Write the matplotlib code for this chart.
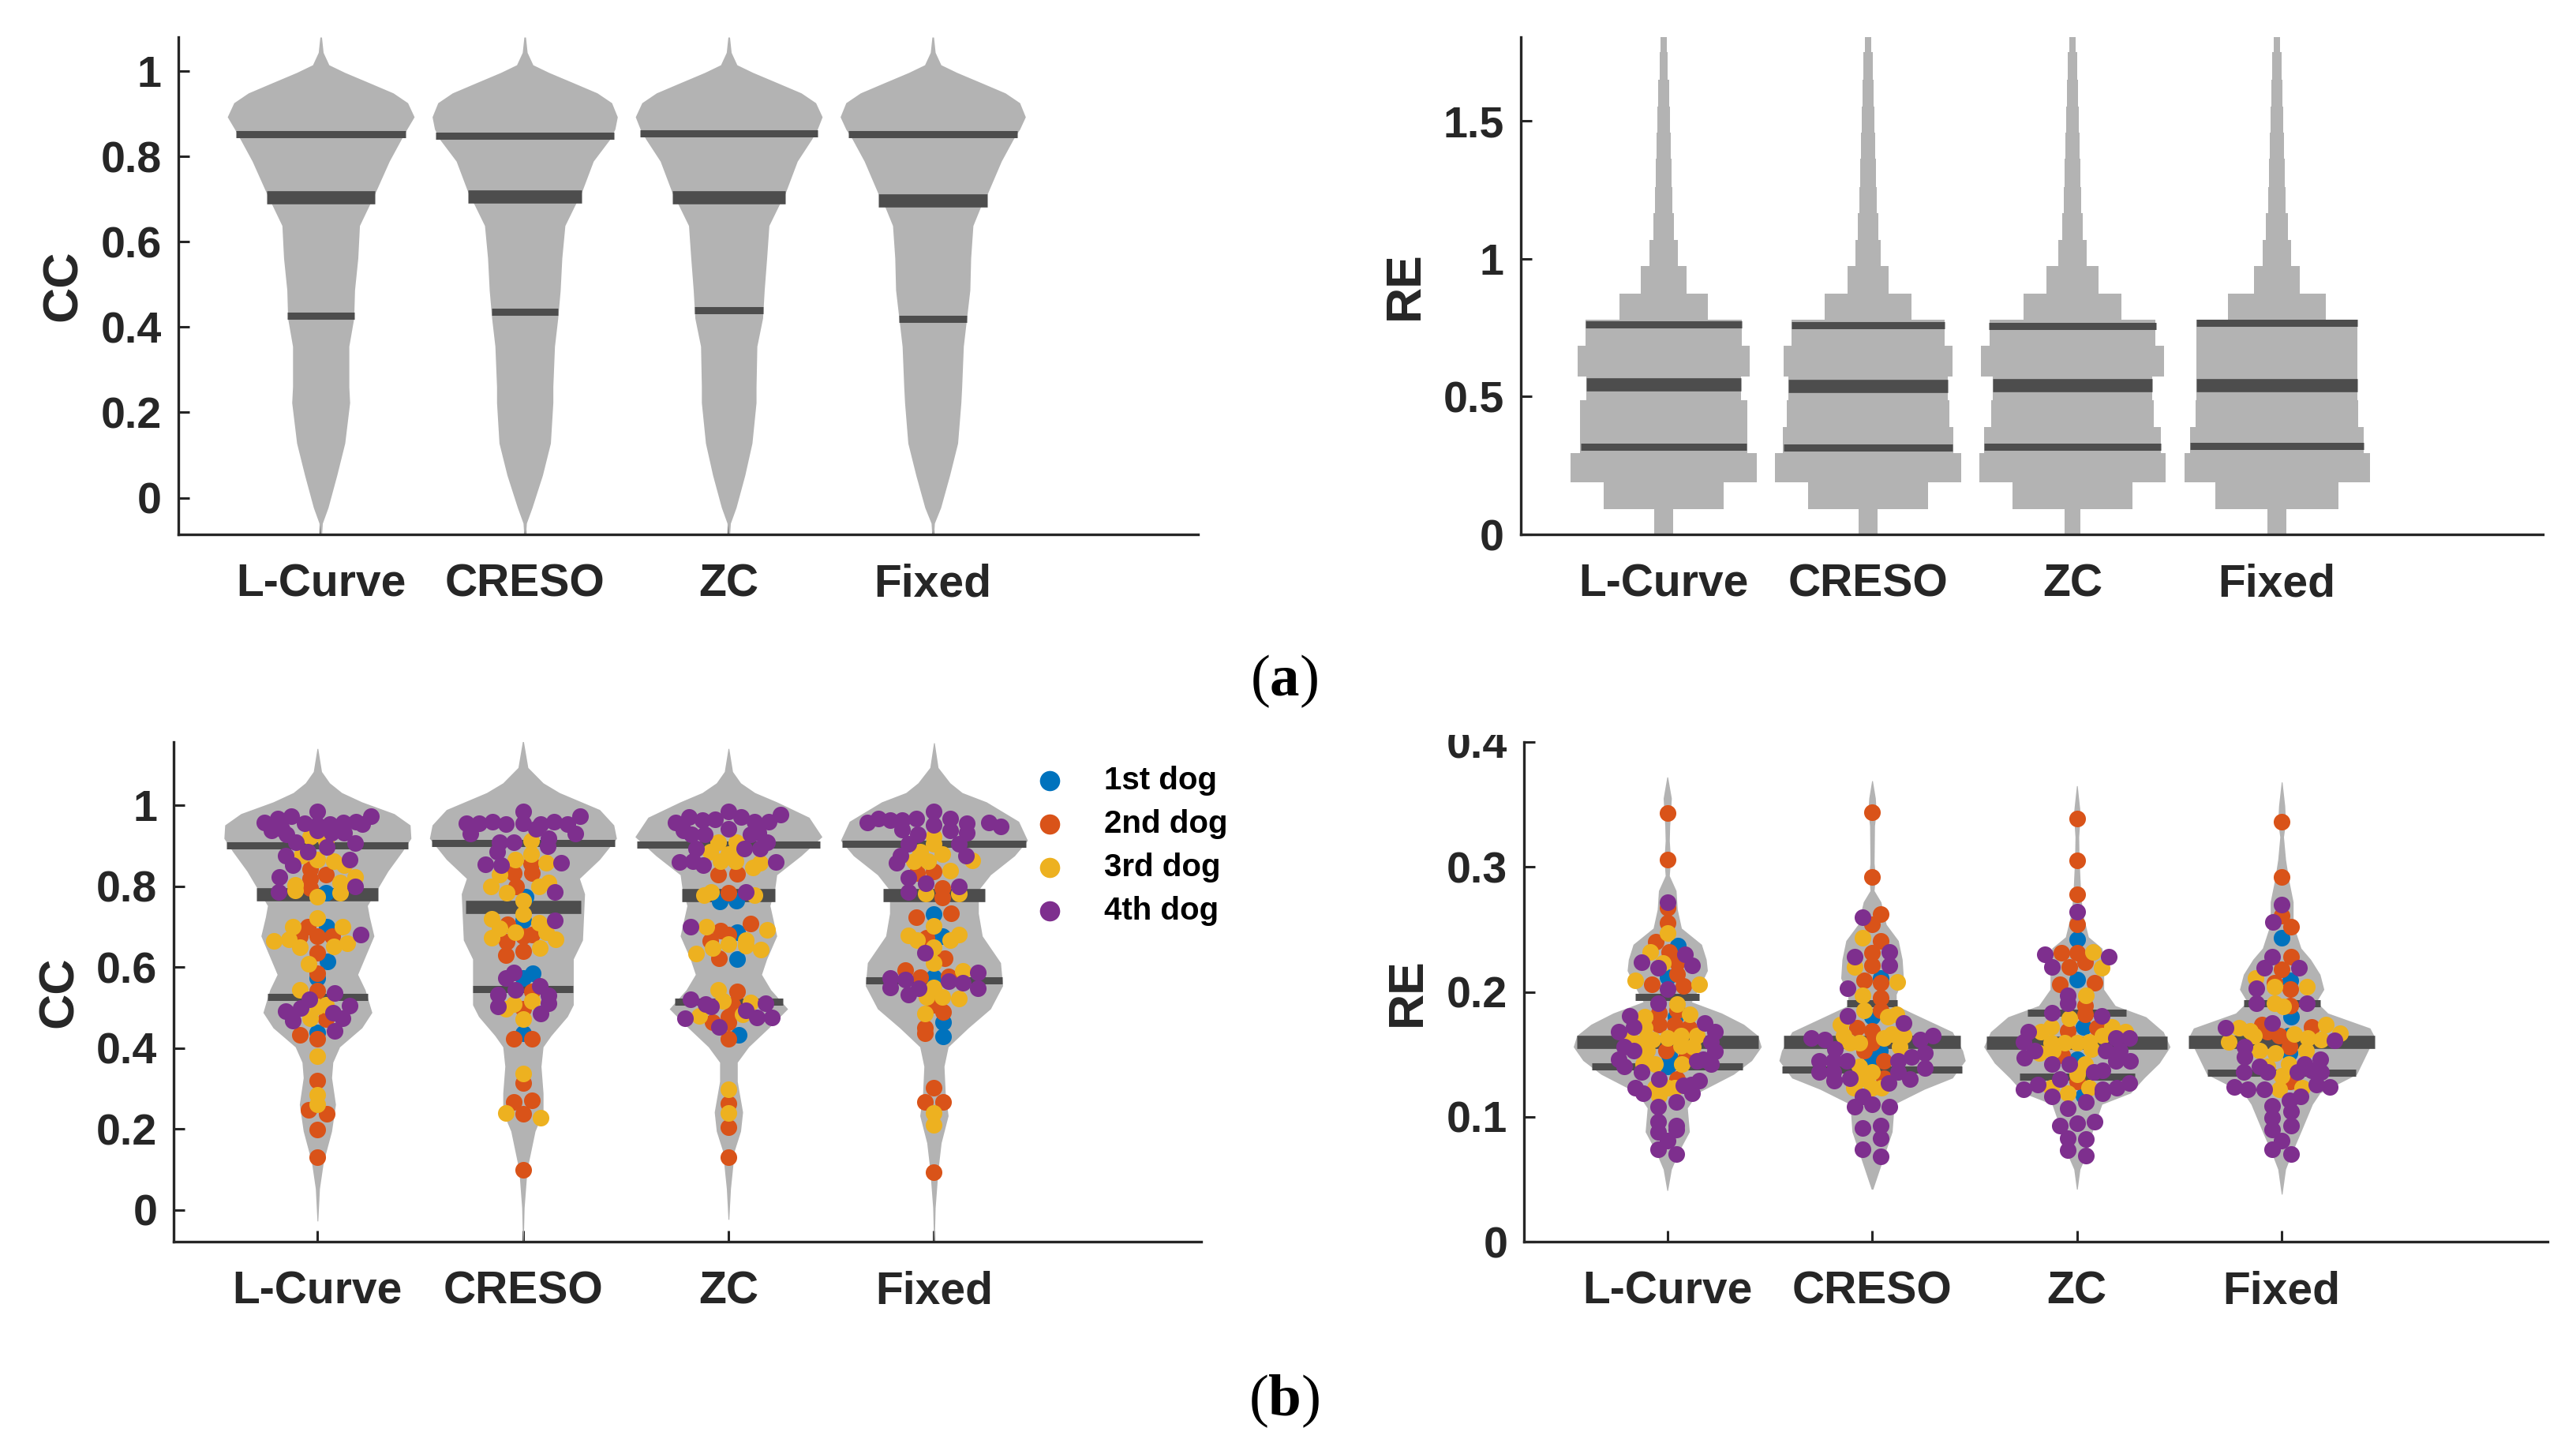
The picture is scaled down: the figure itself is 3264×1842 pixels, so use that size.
import numpy as np
import matplotlib
matplotlib.use("Agg")
import matplotlib.pyplot as plt
from matplotlib.transforms import Bbox

plt.rcParams['font.family'] = ['Liberation Sans', 'DejaVu Sans']
plt.rcParams['font.weight'] = 'bold'
plt.rcParams['mathtext.fontset'] = 'custom'
plt.rcParams['mathtext.rm'] = 'Liberation Serif'
plt.rcParams['mathtext.bf'] = 'Liberation Serif:bold'

METHODS = ['L-Curve', 'CRESO', 'ZC', 'Fixed']
POS = [1, 2, 3, 4]
DOGS = ['1st dog', '2nd dog', '3rd dog', '4th dog']
DOG_COLORS = ['#0072BD', '#D95319', '#EDB120', '#7E2F8E']
GRAY = '#B3B3B3'
DARK = '#4D4D4D'
INK = '#262626'

# ---- panel (a) CC: density profile, same y grid for all methods
CC_A_Y = [1.08, 1.044, 1.015, .997, .973, .949, .926, .893, .864, .841, .789, .713, .685, .638, .562, .487, .421, .355, .26, .223, .128, .053, -.023, -.06, -.087]
CC_A_W = [
    [.004, .012, .04, .118, .237, .355, .426, .458, .422, .395, .336, .265, .237, .19, .182, .166, .162, .138, .138, .142, .118, .079, .036, .008, .004],
    [.004, .012, .04, .118, .237, .355, .426, .454, .442, .418, .336, .276, .245, .197, .182, .174, .162, .146, .138, .138, .126, .087, .036, .008, .004],
    [.004, .012, .04, .118, .237, .355, .426, .458, .434, .407, .336, .276, .245, .197, .186, .174, .166, .138, .134, .134, .114, .079, .036, .008, .004],
    [.004, .012, .04, .118, .237, .355, .426, .454, .426, .395, .336, .268, .237, .197, .186, .182, .166, .15, .142, .138, .122, .083, .039, .008, .004],
]
CC_A_Q = [[.426, .704, .853], [.435, .707, .849], [.439, .705, .855], [.42, .696, .853]]
CC_A_QW = [[.166, .265, .415], [.162, .28, .438], [.17, .276, .434], [.166, .268, .415]]

# ---- panel (a) RE: binned density
RE_A_EDGES = [0, .092, .19, .294, .391, .488, .572, .684, .779, .874, .974, 1.07, 1.167, 1.262, 1.364, 1.459, 1.553, 1.65, 1.75, 1.805]
RE_A_W = [
    [.046, .293, .454, .408, .408, .377, .42, .381, .216, .112, .069, .05, .042, .038, .035, .031, .027, .019, .015],
    [.046, .293, .454, .416, .397, .389, .412, .373, .212, .1, .062, .05, .042, .038, .035, .031, .027, .023, .015],
    [.039, .293, .454, .431, .397, .389, .447, .404, .239, .127, .069, .05, .042, .038, .035, .031, .027, .023, .015],
    [.046, .3, .454, .424, .397, .393, .393, .393, .239, .112, .069, .054, .042, .038, .035, .031, .027, .023, .015],
]
RE_A_Q = [[.319, .545, .763], [.316, .539, .76], [.319, .542, .757], [.322, .542, .769]]
RE_A_QW = [[.404, .377, .381], [.412, .389, .373], [.431, .389, .408], [.424, .393, .393]]

# ---- panel (b) CC: density profiles
CC_B_Y = [
    [1.14, 1.083, 1.055, 1.031, 1.008, .979, .951, .918, .885, .837, .795, .752, .724, .677, .629, .582, .544, .488, .45, .403, .365, .327, .261, .195, .119, .053, -.027],
    [1.159, 1.093, 1.055, 1.031, .989, .951, .918, .866, .819, .781, .667, .62, .573, .507, .478, .431, .403, .355, .289, .242, .195, .1, .006, -.075],
    [1.14, 1.083, 1.055, 1.031, 1.008, .97, .922, .875, .828, .795, .752, .677, .62, .582, .544, .497, .45, .403, .365, .318, .242, .195, .147, .053, -.023],
    [1.154, 1.093, 1.055, 1.031, 1.008, .96, .913, .875, .828, .79, .733, .677, .611, .554, .497, .45, .403, .355, .289, .233, .166, .1, .006, -.075],
]
CC_B_W = [
    [.002, .02, .059, .118, .216, .373, .451, .455, .412, .343, .294, .243, .253, .275, .235, .196, .232, .265, .216, .108, .075, .069, .088, .069, .029, .01, .002],
    [.002, .024, .098, .177, .373, .442, .455, .373, .275, .3, .29, .245, .245, .245, .216, .137, .098, .088, .098, .098, .059, .02, .006, .002],
    [.002, .02, .059, .128, .235, .392, .455, .353, .235, .226, .202, .235, .186, .161, .206, .288, .196, .098, .043, .043, .069, .059, .029, .01, .002],
    [.002, .02, .078, .137, .255, .412, .455, .392, .275, .216, .216, .235, .324, .334, .275, .167, .069, .049, .055, .069, .035, .02, .006, .002],
]
CC_B_Q = [[.527, .78, .90], [.546, .748, .906], [.514, .778, .903], [.567, .778, .904]]
CC_B_QW = [[.243, .296, .442], [.245, .281, .445], [.263, .226, .445], [.332, .247, .447]]

# ---- panel (b) RE: density profiles
RE_B_Y = [
    [.372, .355, .343, .333, .321, .306, .293, .281, .266, .251, .238, .226, .217, .205, .192, .183, .174, .165, .156, .145, .134, .119, .107, .088, .073, .058, .041],
    [.369, .355, .344, .333, .303, .293, .281, .272, .254, .241, .226, .211, .198, .189, .18, .168, .153, .145, .131, .122, .11, .088, .064, .042],
    [.365, .345, .338, .324, .306, .278, .263, .244, .235, .226, .214, .202, .189, .18, .168, .156, .143, .131, .119, .11, .088, .07, .058, .042],
    [.368, .349, .336, .324, .306, .29, .272, .254, .235, .226, .214, .202, .192, .183, .171, .165, .156, .134, .119, .11, .088, .07, .058, .038],
]
RE_B_W = [
    [.002, .02, .016, .012, .01, .016, .01, .043, .049, .069, .167, .19, .196, .161, .118, .265, .373, .442, .459, .412, .324, .147, .098, .108, .059, .02, .002],
    [.002, .016, .02, .012, .01, .016, .01, .043, .069, .128, .147, .153, .118, .118, .235, .392, .442, .455, .392, .255, .108, .098, .049, .004],
    [.002, .015, .015, .009, .011, .019, .028, .056, .122, .131, .131, .131, .187, .337, .422, .455, .403, .328, .262, .122, .075, .047, .015, .002],
    [.002, .015, .019, .009, .019, .034, .056, .056, .094, .141, .187, .206, .169, .225, .431, .45, .431, .366, .187, .15, .094, .047, .019, .002],
]
RE_B_Q = [[.14, .16, .196], [.138, .16, .191], [.132, .159, .183], [.135, .16, .191]]
RE_B_QW = [[.369, .443, .157], [.44, .432, .122], [.281, .44, .24], [.362, .454, .187]]

# ---- swarm points: (offset from violin centre, value)
cc_lcurve_1st = [(.041,.783),(.045,.70),(.047,.615),(0,.573),(0,.438)]
cc_lcurve_2nd = [(-.037,.842),(-.037,.819),(.041,.828),(-.037,.795),(0,.677),(-.047,.70),(-.086,.677),(.071,.677),(0,.636),(0,.584),(0,.542),(.041,.471),(-.086,.433),(0,.423),(0,.319),(-.043,.247),(.045,.237),(0,.199),(0,.13)]
cc_lcurve_3rd = [(0,.941),(-.037,.923),(.041,.913),(-.077,.875),(0,.866),(.08,.861),(.13,.852),(.182,.823),(.11,.809),(-.11,.804),(-.11,.79),(.11,.783),(0,.774),(0,.721),(-.12,.70),(.12,.70),(-.214,.664),(-.139,.669),(-.086,.65),(.08,.651),(.143,.658),(-.043,.609),(-.086,.544),(.041,.507),(0,.502),(-.037,.474),(0,.381),(0,.285),(0,.261)]
cc_lcurve_4th = [(.259,.973),(.188,.96),(.126,.958),(.061,.953),(0,.984),(0,.951),(-.063,.955),(-.128,.973),(-.194,.967),(-.259,.957),(-.224,.937),(-.175,.941),(-.151,.927),(-.106,.908),(0,.937),(.067,.932),(.13,.932),(.218,.954),(.182,.906),(.045,.897),(-.047,.885),(-.155,.876),(-.122,.852),(.155,.866),(-.184,.823),(-.188,.785),(.184,.80),(.084,.537),(-.041,.521),(-.08,.499),(-.153,.491),(-.122,.467),(.077,.488),(.155,.505),(.12,.474),(.084,.442),(.212,.681)]

cc_creso_1st = [(.014,.774),(0,.715),(.047,.585),(0,.573),(0,.436)]
cc_creso_2nd = [(-.045,.833),(.043,.833),(-.035,.80),(.039,.856),(-.075,.705),(.043,.681),(-.078,.663),(0,.639),(0,.677),(-.084,.629),(.043,.54),(0,.497),(-.045,.423),(.043,.423),(0,.313),(-.045,.267),(.043,.27),(0,.237),(0,.10)]
cc_creso_3rd = [(.039,.913),(.039,.88),(-.039,.866),(.112,.858),(-.114,.828),(-.157,.80),(-.078,.784),(.126,.809),(.077,.80),(0,.765),(0,.731),(-.153,.719),(.077,.709),(-.114,.696),(-.039,.686),(-.153,.672),(.112,.686),(.157,.669),(.082,.648),(.043,.516),(-.045,.509),(-.084,.497),(0,.471),(0,.338),(-.084,.24),(.086,.228)]
cc_creso_4th = [(.279,.973),(.216,.953),(.151,.96),(.086,.953),(0,.984),(0,.956),(-.084,.953),(-.149,.96),(-.212,.956),(-.275,.956),(-.255,.93),(.255,.93),(.063,.941),(.126,.918),(.122,.899),(-.045,.908),(-.114,.908),(-.124,.885),(-.182,.854),(-.108,.852),(.184,.858),(.155,.785),(.155,.715),(-.045,.587),(-.084,.573),(.082,.554),(-.12,.532),(-.039,.544),(.126,.53),(-.12,.502),(.126,.511),(.086,.485)]

cc_zc_1st = [(-.043,.762),(.039,.765),(.043,.686),(.043,.62),(.049,.433)]
cc_zc_2nd = [(-.049,.828),(.043,.83),(0,.783),(.108,.708),(-.039,.691),(0,.681),(-.088,.664),(-.045,.622),(.043,.54),(.02,.507),(0,.478),(-.078,.464),(0,.464),(0,.423),(0,.263),(0,.204),(0,.131)]
cc_zc_3rd = [(-.049,.908),(.039,.908),(-.088,.885),(0,.88),(-.039,.861),(.035,.861),(.118,.847),(.153,.858),(-.118,.778),(-.084,.785),(.128,.778),(-.108,.70),(.186,.693),(.084,.667),(0,.656),(-.078,.648),(.084,.653),(.157,.644),(-.157,.634),(-.049,.544),(-.029,.516),(.108,.513),(.069,.483),(-.141,.48),(0,.299),(0,.24)]
cc_zc_4th = [(.255,.977),(.196,.96),(.128,.96),(.063,.97),(0,.984),(0,.941),(-.065,.965),(-.128,.963),(-.192,.97),(-.259,.957),(-.22,.937),(-.182,.927),(-.114,.927),(.108,.927),(.147,.932),(.186,.908),(.153,.892),(.075,.892),(-.157,.892),(-.239,.859),(-.173,.861),(-.122,.852),(.232,.859),(.084,.785),(-.186,.70),(-.186,.521),(-.112,.509),(-.084,.502),(.182,.511),(.084,.494),(.137,.475),(.21,.475),(-.212,.474),(-.045,.453)]

cc_fixed_1st = [(0,.731),(.041,.677),(0,.576),(.045,.464),(.045,.429)]
cc_fixed_2nd = [(-.084,.833),(0,.837),(.041,.795),(.041,.771),(-.086,.724),(.084,.733),(-.037,.672),(.051,.622),(-.139,.592),(-.067,.576),(.071,.577),(0,.507),(.045,.49),(-.045,.45),(-.045,.436),(0,.303),(-.045,.267),(.045,.267),(0,.094)]
cc_fixed_3rd = [(0,.923),(0,.904),(-.067,.885),(.041,.88),(-.027,.861),(-.096,.861),(.188,.863),(.08,.839),(-.041,.781),(.12,.781),(0,.702),(-.126,.679),(-.084,.667),(.12,.681),(.08,.667),(0,.65),(0,.611),(.139,.59),(0,.549),(-.037,.527),(.041,.527),(.12,.523),(-.045,.486),(0,.24),(0,.211)]
cc_fixed_4th = [(.326,.948),(.267,.957),(-.326,.958),(-.269,.967),(-.214,.963),(-.155,.963),(-.086,.967),(0,.984),(0,.951),(.08,.967),(.159,.956),(-.155,.94),(-.077,.927),(.08,.937),(.159,.932),(.12,.904),(-.126,.904),(-.165,.875),(-.184,.858),(.155,.875),(-.124,.82),(-.124,.785),(-.041,.807),(.12,.80),(-.045,.636),(-.212,.573),(-.212,.549),(-.139,.57),(-.073,.547),(-.124,.532),(.071,.566),(.139,.561),(.212,.587),(.212,.547)]

re_lcurve_1st = [(.051,.237),(0,.212),(.041,.18),(0,.14),(.008,.149)]
re_lcurve_2nd = [(0,.343),(0,.306),(0,.267),(0,.255),(-.055,.24),(.008,.232),(.047,.224),(.047,.214),(-.077,.206),(.077,.205),(.047,.185),(-.041,.183),(-.041,.174),(.106,.171),(-.006,.153),(.037,.174),(.047,.13),(.086,.146)]
re_lcurve_3rd = [(0,.247),(-.084,.232),(-.022,.223),(-.155,.209),(.155,.206),(.047,.19),(.11,.182),(-.11,.18),(-.11,.171),(-.179,.162),(-.12,.16),(-.071,.162),(0,.163),(.067,.165),(.067,.157),(.145,.165),(.126,.156),(-.139,.153),(-.1,.153),(-.12,.142),(-.061,.142),(.071,.142),(-.061,.123),(0,.123),(-.041,.117),(.037,.123)]
re_lcurve_4th = [(0,.272),(-.124,.224),(-.045,.219),(.086,.23),(.122,.221),(0,.202),(-.045,.191),(-.184,.181),(.184,.175),(-.163,.172),(-.237,.168),(.234,.168),(.214,.16),(-.212,.156),(-.163,.153),(.234,.152),(-.237,.146),(.175,.146),(.214,.142),(-.212,.14),(.145,.145),(-.124,.136),(-.041,.13),(-.155,.123),(-.12,.119),(.155,.129),(.116,.126),(.077,.125),(.122,.119),(-.045,.108),(.043,.112),(-.045,.096),(-.045,.088),(.043,.093),(.043,.09),(0,.081),(-.045,.074),(.043,.07)]

re_creso_1st = [(.043,.211),(0,.18),(.037,.153),(0,.146)]
re_creso_2nd = [(0,.344),(0,.292),(.043,.262),(0,.254),(.043,.241),(0,.231),(0,.221),(-.041,.209),(.043,.207),(.043,.195),(.043,.185),(-.075,.171),(0,.169),(0,.159),(.057,.145),(.057,.131),(-.041,.153)]
re_creso_3rd = [(-.045,.243),(-.086,.22),(.122,.208),(-.045,.197),(-.041,.185),(-.153,.174),(.077,.18),(.12,.182),(-.139,.165),(-.061,.159),(.057,.163),(.155,.165),(.096,.166),(-.11,.159),(.135,.156),(-.061,.14),(0,.136),(-.061,.13),(-.09,.123),(0,.123),(.047,.123),(-.031,.13)]
re_creso_4th = [(-.045,.26),(-.084,.228),(.086,.232),(.086,.221),(-.12,.203),(-.12,.181),(.155,.175),(-.296,.163),(-.231,.162),(-.182,.154),(.234,.162),(.296,.165),(.257,.151),(-.257,.145),(-.188,.145),(-.124,.145),(-.257,.136),(-.188,.136),(-.11,.131),(-.184,.129),(.126,.145),(.194,.148),(.257,.139),(.126,.136),(.184,.13),(.08,.127),(-.047,.116),(-.084,.108),(0,.11),(.086,.108),(-.045,.091),(.043,.093),(.043,.083),(-.045,.074),(.043,.068)]

re_zc_1st = [(0,.242),(0,.21),(.032,.172),(0,.146),(.032,.117)]
re_zc_2nd = [(0,.339),(0,.305),(0,.278),(0,.254),(-.077,.231),(0,.231),(.041,.224),(-.039,.22),(-.084,.206),(.088,.207),(.041,.182),(-.043,.169),(.097,.171),(.041,.189),(-.071,.149),(0,.128)]
re_zc_3rd = [(.079,.232),(.122,.219),(.045,.197),(-.039,.179),(-.127,.172),(.172,.172),(.238,.168),(-.174,.168),(-.127,.159),(-.062,.159),(0,.159),(.06,.16),(.126,.165),(-.184,.151),(-.118,.153),(.069,.154),(.041,.142),(0,.134),(-.127,.123),(-.043,.119),(.06,.123)]
re_zc_4th = [(0,.264),(-.156,.23),(.157,.228),(-.122,.22),(-.043,.197),(-.043,.191),(-.122,.183),(.122,.181),(-.236,.168),(-.259,.16),(-.208,.153),(-.255,.147),(.191,.163),(.257,.163),(.141,.153),(.21,.153),(.191,.145),(.26,.145),(-.122,.142),(-.039,.142),(.084,.136),(.126,.137),(-.084,.13),(-.193,.126),(-.259,.122),(-.122,.116),(.126,.122),(.126,.119),(.195,.123),(.257,.127),(.045,.112),(-.043,.107),(-.084,.093),(0,.095),(.088,.096),(-.043,.083),(.045,.082),(-.043,.073),(.045,.069)]

re_fixed_1st = [(0,.243),(.043,.209),(.047,.18),(.037,.151),(.034,.165)]
re_fixed_2nd = [(0,.336),(0,.292),(0,.261),(.047,.252),(.047,.228),(0,.218),(-.037,.207),(.043,.202),(.043,.189),(-.097,.174),(-.013,.165),(.146,.172),(.037,.156),(.043,.128),(-.069,.168)]
re_fixed_3rd = [(-.126,.211),(-.037,.204),(.124,.204),(-.037,.191),(.006,.188),(.216,.174),(.283,.167),(-.21,.171),(-.154,.169),(-.257,.16),(-.135,.165),(.062,.166),(.127,.163),(.193,.162),(.118,.153),(-.107,.153),(-.032,.151),(.034,.142),(0,.133),(-.013,.122),(.099,.123),(-.069,.14)]
re_fixed_4th = [(0,.27),(-.043,.256),(-.045,.228),(-.084,.219),(.086,.219),(-.122,.203),(-.122,.191),(.124,.191),(-.045,.175),(-.276,.171),(.259,.161),(-.182,.156),(-.182,.148),(.187,.146),(.112,.142),(-.186,.136),(-.107,.14),(-.069,.136),(.075,.136),(.146,.137),(.193,.136),(-.232,.124),(-.167,.122),(-.084,.122),(.169,.126),(.236,.124),(.09,.116),(.037,.113),(-.045,.109),(.047,.104),(-.045,.099),(.047,.093),(-.045,.09),(0,.081),(-.045,.074),(.047,.07)]

CC_POINTS = [[cc_lcurve_1st, cc_lcurve_2nd, cc_lcurve_3rd, cc_lcurve_4th],
             [cc_creso_1st, cc_creso_2nd, cc_creso_3rd, cc_creso_4th],
             [cc_zc_1st, cc_zc_2nd, cc_zc_3rd, cc_zc_4th],
             [cc_fixed_1st, cc_fixed_2nd, cc_fixed_3rd, cc_fixed_4th]]
RE_POINTS = [[re_lcurve_1st, re_lcurve_2nd, re_lcurve_3rd, re_lcurve_4th],
             [re_creso_1st, re_creso_2nd, re_creso_3rd, re_creso_4th],
             [re_zc_1st, re_zc_2nd, re_zc_3rd, re_zc_4th],
             [re_fixed_1st, re_fixed_2nd, re_fixed_3rd, re_fixed_4th]]

W, H = 3264, 1842
fig = plt.figure(figsize=(W / 100, H / 100), dpi=100, facecolor='white')


def make_axes(x0, x1, ytop, ybot, ylim, yticks, yticklabels, ylabel, ylabel_x):
    ax = fig.add_axes([x0 / W, 1 - ybot / H, (x1 - x0) / W, (ybot - ytop) / H])
    ax.set_xlim(0.3, 5.3)
    ax.set_ylim(*ylim)
    for s in ('top', 'right'):
        ax.spines[s].set_visible(False)
    for s in ('left', 'bottom'):
        ax.spines[s].set_linewidth(2.4)
        ax.spines[s].set_color(INK)
    ax.set_xticks(POS, METHODS)
    ax.set_yticks(yticks, yticklabels)
    ax.tick_params(axis='both', direction='in', length=10, width=2.2, color=INK, labelcolor=INK)
    ax.tick_params(axis='x', pad=26, labelsize=41)
    ax.tick_params(axis='y', pad=15, labelsize=40)
    fig.text(ylabel_x / W, 1 - (ytop + ybot) / 2 / H, ylabel, rotation=90, ha='center', va='center',
             fontsize=45, color=INK, fontweight='bold')
    return ax


def draw_bars(ax, q, qw):
    for c, qs, ws in zip(POS, q, qw):
        for i, (y, w) in enumerate(zip(qs, ws)):
            ax.hlines(y, c - w, c + w, colors=DARK, linewidth=12 if i == 1 else 6.5,
                      capstyle='butt', zorder=3)


def draw_violins(ax, ys, ws):
    for c, y, w in zip(POS, ys, ws):
        w = np.asarray(w)
        ax.fill_betweenx(y, c - w, c + w, color=GRAY, lw=0, zorder=2)


def draw_swarm(ax, points):
    for c, dogs in zip(POS, points):
        for dog, col in zip(dogs, DOG_COLORS):
            pts = np.asarray(dog)
            ax.scatter(c + pts[:, 0], pts[:, 1], s=230, color=col, lw=0, zorder=4, clip_on=False)


# (a) CC
ax = make_axes(225.5, 1518, 47, 677, (-.086, 1.08), [0, .2, .4, .6, .8, 1], ['0', '0.2', '0.4', '0.6', '0.8', '1'], 'CC', 80)
draw_violins(ax, [CC_A_Y] * 4, CC_A_W)
draw_bars(ax, CC_A_Q, CC_A_QW)

# (a) RE
ax = make_axes(1926.5, 3222, 47, 677, (0, 1.805), [0, .5, 1, 1.5], ['0', '0.5', '1', '1.5'], 'RE', 1780)
for c, w in zip(POS, RE_A_W):
    w = np.asarray(w + [w[-1]])
    ax.fill_betweenx(RE_A_EDGES, c - w, c + w, step='post', color=GRAY, lw=0, zorder=2)
draw_bars(ax, RE_A_Q, RE_A_QW)

# (b) CC
ax = make_axes(220, 1522, 940, 1573, (-.078, 1.156), [0, .2, .4, .6, .8, 1], ['0', '0.2', '0.4', '0.6', '0.8', '1'], 'CC', 75)
draw_violins(ax, CC_B_Y, CC_B_W)
draw_bars(ax, CC_B_Q, CC_B_QW)
draw_swarm(ax, CC_POINTS)
handles = [ax.scatter([], [], s=340, color=col, lw=0) for col in DOG_COLORS]
ax.legend(handles, DOGS, loc='upper left', bbox_to_anchor=((1310 - 220) / 1302, 1 - (970 - 940) / 633),
          frameon=False, fontsize=29, labelcolor='black', borderpad=0, borderaxespad=0,
          labelspacing=0.42, handletextpad=1.2, handlelength=1.0)

# (b) RE
ax = make_axes(1931, 3228.5, 940, 1573, (0, .4), [0, .1, .2, .3, .4], ['0', '0.1', '0.2', '0.3', '0.4'], 'RE', 1783)
draw_violins(ax, RE_B_Y, RE_B_W)
draw_bars(ax, RE_B_Q, RE_B_QW)
draw_swarm(ax, RE_POINTS)
# the topmost tick label is cut off at its top in the reference
top_label = ax.get_yticklabels()[-1]
top_label.set_clip_on(True)
top_label.set_clip_box(Bbox.from_extents(0, 0, W, H - 931))

fig.text(1627 / W, 1 - 863 / H, r'($\mathbf{a}$)', ha='center', va='center', fontsize=54, color='black',
         fontweight='normal', family='Liberation Serif')
fig.text(1627 / W, 1 - 1775 / H, r'($\mathbf{b}$)', ha='center', va='center', fontsize=54, color='black',
         fontweight='normal', family='Liberation Serif')

fig.savefig('out.png', dpi=100, facecolor='white')
